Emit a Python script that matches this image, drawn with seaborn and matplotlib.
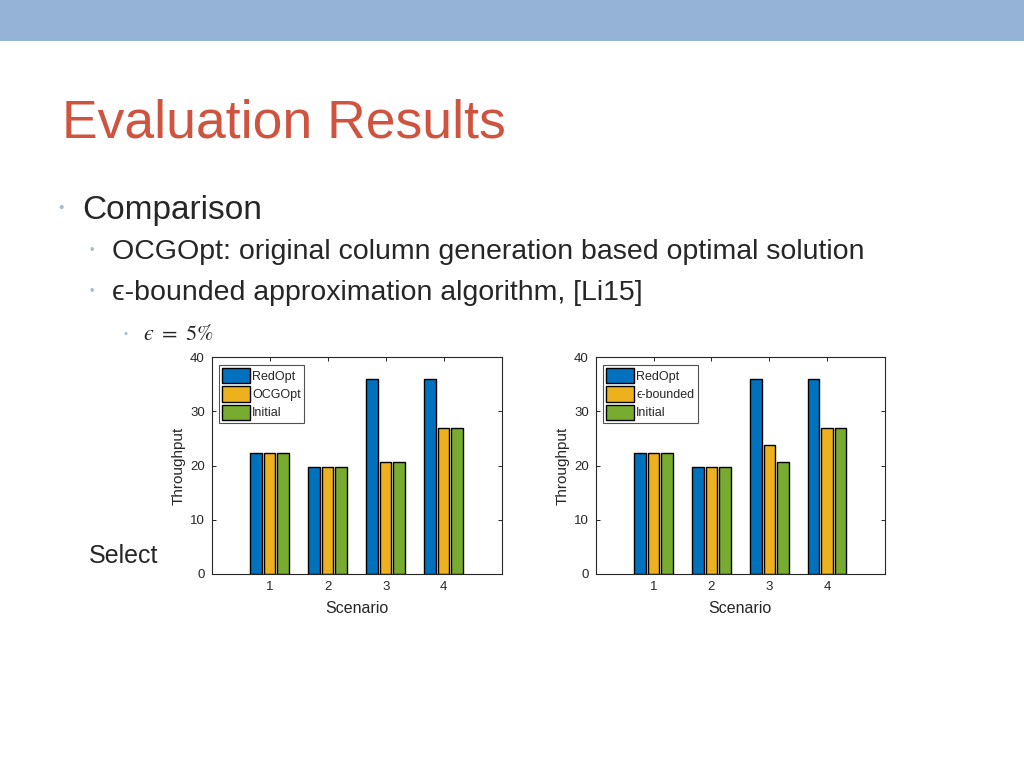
import matplotlib
matplotlib.use("Agg")
import matplotlib.pyplot as plt
from matplotlib.patches import Rectangle
import seaborn as sns
import pandas as pd

# ---- data ----
scenarios = [1, 2, 3, 4]
redopt = [22.3, 19.8, 36.0, 36.0]
ocgopt = [22.3, 19.8, 20.6, 27.0]
initial_left = [22.3, 19.8, 20.6, 27.0]
eps_bounded = [22.3, 19.8, 23.9, 27.0]
initial_right = [22.3, 19.8, 20.6, 27.0]
left_labels = ["RedOpt", "OCGOpt", "Initial"]
right_labels = ["RedOpt", "\u03f5-bounded", "Initial"]
yticks = [0, 10, 20, 30, 40]
colors = ["#0072BD", "#EDB120", "#77AC30"]

def long_df(series, labels):
    rows = []
    for lab, vals in zip(labels, series):
        for s, v in zip(scenarios, vals):
            rows.append({"Scenario": s, "Throughput": v, "Method": lab})
    return pd.DataFrame(rows)

df_left = long_df([redopt, ocgopt, initial_left], left_labels)
df_right = long_df([redopt, eps_bounded, initial_right], right_labels)

sns.set_theme(style="white")
plt.rcParams["font.family"] = ["Liberation Sans", "DejaVu Sans"]
plt.rcParams["mathtext.fontset"] = "stix"

W, H = 1024, 768
fig = plt.figure(figsize=(W / 100, H / 100), dpi=100)

def fx(x):
    return x / W

def fy(y):
    return 1 - y / H

# banner
fig.patches.append(Rectangle((0, fy(40.5)), 1, 40.5 / H, transform=fig.transFigure,
                             facecolor="#95B3D7", edgecolor="none", zorder=0))

sans = ["Liberation Sans", "DejaVu Sans"]
txt_col = "#262626"
bul_col = "#A7B7CC"

fig.text(fx(62), fy(137), "Evaluation Results", fontsize=38.5, color="#CF5440",
         family=sans, va="baseline", ha="left")

fig.text(fx(58), fy(208), "\u2022", fontsize=11, color=bul_col, va="center", ha="left")
fig.text(fx(82), fy(219), "Comparison", fontsize=24, color=txt_col, family=sans,
         va="baseline", ha="left")
fig.text(fx(90), fy(251), "\u2022", fontsize=9, color=bul_col, va="center", ha="left")
fig.text(fx(112), fy(259), "OCGOpt: original column generation based optimal solution",
         fontsize=20.5, color=txt_col, family=sans, va="baseline", ha="left")
fig.text(fx(90), fy(292), "\u2022", fontsize=9, color=bul_col, va="center", ha="left")
fig.text(fx(112), fy(300), "\u03f5-bounded approximation algorithm, [Li15]",
         fontsize=20.5, color=txt_col, family=sans, va="baseline", ha="left")
fig.text(fx(124), fy(334), "\u2022", fontsize=8, color=bul_col, va="center", ha="left")
fig.text(fx(143), fy(340), "$\u03f5\\ =\\ \\mathrm{5\\%}$", fontsize=16, color=txt_col,
         va="baseline", ha="left")
fig.text(fx(89), fy(563), "Select", fontsize=18, color=txt_col, family=sans,
         va="baseline", ha="left")

def draw(ax, df, labels):
    sns.barplot(data=df, x="Scenario", y="Throughput", hue="Method", hue_order=labels,
                palette=colors, saturation=1, native_scale=True, width=0.7, gap=0.15,
                edgecolor="black", linewidth=1.0, errorbar=None, ax=ax)
    ax.set_xlim(0, 5)
    ax.set_ylim(0, 40)
    ax.set_xticks(scenarios)
    ax.set_xticklabels([str(s) for s in scenarios])
    ax.set_yticks(yticks)
    ax.tick_params(direction="in", length=3, width=0.7, colors=txt_col, labelsize=9.5,
                   top=True, right=True, bottom=True, left=True, pad=5)
    for sp in ax.spines.values():
        sp.set_color(txt_col)
        sp.set_linewidth(0.8)
        sp.set_visible(True)
    ax.set_xlabel("Scenario", fontsize=11.5, color=txt_col, labelpad=6)
    ax.set_ylabel("Throughput", fontsize=11, color=txt_col, labelpad=3)
    leg = ax.legend(loc="upper left", fontsize=9, frameon=True, fancybox=False,
                    edgecolor="#262626", handlelength=2.2, handleheight=1.5,
                    borderpad=0.25, labelspacing=0.25, handletextpad=0.2,
                    borderaxespad=0.6, title=None)
    leg.get_frame().set_linewidth(0.8)
    for t in leg.get_texts():
        t.set_family(sans)
        t.set_color(txt_col)

ax1 = fig.add_axes([fx(211.7), fy(574), (501.7 - 211.7) / W, (574 - 357.3) / H])
draw(ax1, df_left, left_labels)
ax2 = fig.add_axes([fx(595.7), fy(574), (885 - 595.7) / W, (574 - 357.3) / H])
draw(ax2, df_right, right_labels)

fig.savefig("out.png", dpi=100)
